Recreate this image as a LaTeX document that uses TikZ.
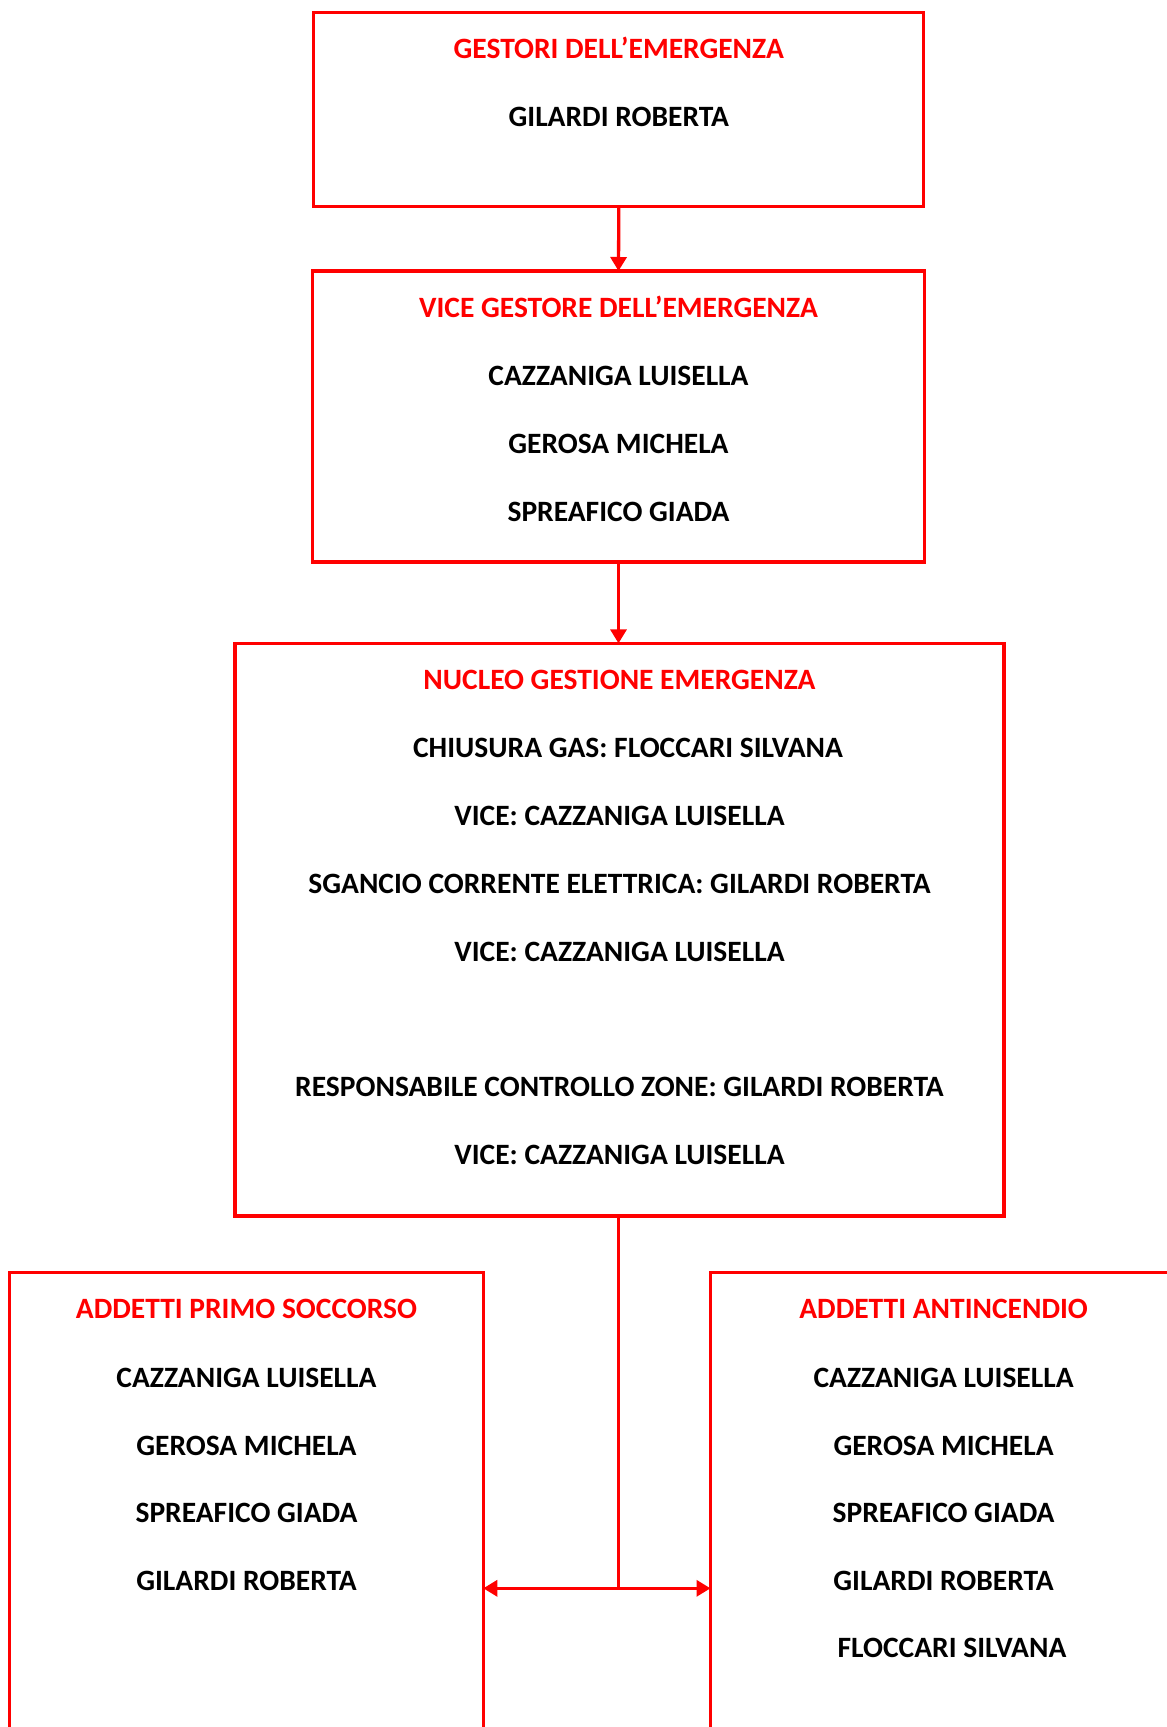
\documentclass[tikz,border=0pt]{standalone}
\usepackage{fontspec}
\setmainfont{Carlito}
\usetikzlibrary{arrows.meta}
\definecolor{rred}{RGB}{255,0,0}
\begin{document}
\begin{tikzpicture}[x=1pt,y=-1pt,
  box/.style={draw=rred, line width=3.3pt, rectangle, inner sep=0pt, outer sep=0pt},
  txt/.style={font=\bfseries\fontsize{29.5}{35}\selectfont, inner sep=0pt, anchor=base},
  ttl/.style={txt, text=rred},
  nm/.style={txt, text=black},
  conn/.style={draw=rred, line width=3.3pt},
  arr/.style={conn, -{Triangle[length=14pt,width=16pt]}}
]
\useasboundingbox (0,0) rectangle (1167,1727);
\clip (0,0) rectangle (1167,1727);
\fill[white] (0,0) rectangle (1167,1727);

% boxes
\node[box, minimum width=610, minimum height=194] (b1) at (618.8,109.7) {};
\node[box, minimum width=612.5, minimum height=291] (b2) at (618.5,416.5) {};
\node[box, minimum width=769, minimum height=572.7] (b3) at (619.5,929.7) {};
\node[box, minimum width=474, minimum height=527.5] (b4) at (246.3,1536.25) {};
\node[box, minimum width=469.5, minimum height=527.5] (b5) at (945.25,1536.25) {};

% box 1
\node[ttl] (t1) at (618.8,58.5) {GESTORI DELL’EMERGENZA};
\node[nm] (n11) at (618.8,126) {GILARDI ROBERTA};

% box 2
\node[ttl] (t2) at (618.5,317.3) {VICE GESTORE DELL’EMERGENZA};
\node[nm] (n21) at (618.5,385.7) {CAZZANIGA LUISELLA};
\node[nm] (n22) at (618.5,453.7) {GEROSA MICHELA};
\node[nm] (n23) at (618.5,521.7) {SPREAFICO GIADA};

% box 3
\node[ttl] (t3) at (619.5,689.3) {NUCLEO GESTIONE EMERGENZA};
\node[nm] (n31) at (628,757.7) {CHIUSURA GAS: FLOCCARI SILVANA};
\node[nm] (n32) at (619.5,825.7) {VICE: CAZZANIGA LUISELLA};
\node[nm] (n33) at (619.5,893.3) {SGANCIO CORRENTE ELETTRICA: GILARDI ROBERTA};
\node[nm] (n34) at (619.5,961) {VICE: CAZZANIGA LUISELLA};
\node[nm] (n35) at (619.5,1096.7) {RESPONSABILE CONTROLLO ZONE: GILARDI ROBERTA};
\node[nm] (n36) at (619.5,1164.3) {VICE: CAZZANIGA LUISELLA};

% left box
\node[ttl] (t4) at (246.5,1318) {ADDETTI PRIMO SOCCORSO};
\node[nm] (n41) at (246.5,1387) {CAZZANIGA LUISELLA};
\node[nm] (n42) at (246.5,1455) {GEROSA MICHELA};
\node[nm] (n43) at (246.5,1522) {SPREAFICO GIADA};
\node[nm] (n44) at (246.5,1590) {GILARDI ROBERTA};

% right box
\node[ttl] (t5) at (943.6,1318) {ADDETTI ANTINCENDIO};
\node[nm] (n51) at (943.6,1387) {CAZZANIGA LUISELLA};
\node[nm] (n52) at (943.6,1455) {GEROSA MICHELA};
\node[nm] (n53) at (943.6,1522) {SPREAFICO GIADA};
\node[nm] (n54) at (943.6,1590) {GILARDI ROBERTA};
\node[nm] (n55) at (952,1657) {FLOCCARI SILVANA};

% connectors
\draw[arr] (b1.south) -- (b2.north);
\draw[arr] (b2.south) -- (b3.north -| b2.south);
\coordinate (j) at (618.3,1588.3);
\draw[conn] (b3.south -| j) -- (j);
\draw[arr] (j) -- (b4.east |- j);
\draw[arr] (j) -- (b5.west |- j);
\end{tikzpicture}
\end{document}
